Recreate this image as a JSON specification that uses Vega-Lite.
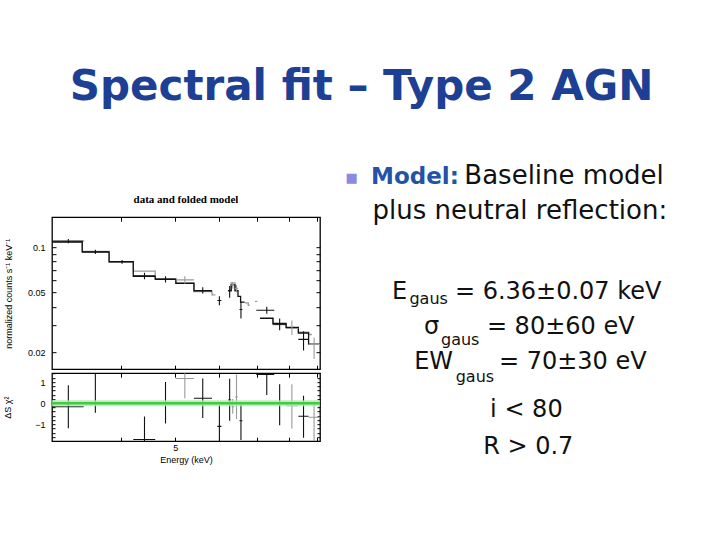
{
  "$schema": "https://vega.github.io/schema/vega-lite/v6.json",
  "background": "white",
  "padding": {"left": 3, "top": 66, "right": 4, "bottom": 5},
  "title": {"text": "Spectral fit – Type 2 AGN", "font": "DejaVu Sans", "fontSize": 42, "fontWeight": "bold", "color": "#1d3f94", "anchor": "middle", "offset": 40},
  "datasets": {
    "model": [
      {"set": "B", "seg": "B1", "e": 3.00, "v": 0.1085},
      {"set": "B", "seg": "B1", "e": 3.40, "v": 0.0935},
      {"set": "B", "seg": "B1", "e": 3.80, "v": 0.0800},
      {"set": "B", "seg": "B1", "e": 4.20, "v": 0.0692},
      {"set": "B", "seg": "B1", "e": 4.60, "v": 0.0612},
      {"set": "B", "seg": "B1", "e": 5.01, "v": 0.0580},
      {"set": "B", "seg": "B1", "e": 5.40, "v": 0.0505},
      {"set": "B", "seg": "B1", "e": 5.82, "v": 0.0480},
      {"set": "B", "seg": "B1", "e": 5.90, "v": 0.0480},
      {"set": "B", "seg": "B2", "e": 6.26, "v": 0.0515},
      {"set": "B", "seg": "B2", "e": 6.30, "v": 0.0578},
      {"set": "B", "seg": "B2", "e": 6.40, "v": 0.0530},
      {"set": "B", "seg": "B2", "e": 6.48, "v": 0.0530},
      {"set": "B", "seg": "B3", "e": 6.66, "v": 0.0425},
      {"set": "B", "seg": "B3", "e": 6.76, "v": 0.0410},
      {"set": "B", "seg": "B3", "e": 6.80, "v": 0.0410},
      {"set": "B", "seg": "B4", "e": 6.95, "v": 0.0435},
      {"set": "B", "seg": "B4", "e": 7.02, "v": 0.0435},
      {"set": "B", "seg": "B5", "e": 7.10, "v": 0.0338},
      {"set": "B", "seg": "B5", "e": 7.49, "v": 0.0305},
      {"set": "B", "seg": "B5", "e": 7.91, "v": 0.0290},
      {"set": "B", "seg": "B5", "e": 8.32, "v": 0.0272},
      {"set": "B", "seg": "B5", "e": 8.68, "v": 0.0262},
      {"set": "B", "seg": "B5", "e": 8.80, "v": 0.0262},
      {"set": "A", "seg": "A1", "e": 3.00, "v": 0.1080},
      {"set": "A", "seg": "A1", "e": 3.40, "v": 0.0925},
      {"set": "A", "seg": "A1", "e": 3.80, "v": 0.0798},
      {"set": "A", "seg": "A1", "e": 4.20, "v": 0.0638},
      {"set": "A", "seg": "A1", "e": 4.60, "v": 0.0612},
      {"set": "A", "seg": "A1", "e": 5.01, "v": 0.0573},
      {"set": "A", "seg": "A1", "e": 5.40, "v": 0.0512},
      {"set": "A", "seg": "A1", "e": 5.82, "v": 0.0512},
      {"set": "A", "seg": "A2", "e": 6.22, "v": 0.0512},
      {"set": "A", "seg": "A2", "e": 6.30, "v": 0.0560},
      {"set": "A", "seg": "A2", "e": 6.40, "v": 0.0512},
      {"set": "A", "seg": "A2", "e": 6.48, "v": 0.0470},
      {"set": "A", "seg": "A2", "e": 6.55, "v": 0.0430},
      {"set": "A", "seg": "A2", "e": 6.66, "v": 0.0430},
      {"set": "A", "seg": "A3", "e": 7.10, "v": 0.0335},
      {"set": "A", "seg": "A3", "e": 7.49, "v": 0.0310},
      {"set": "A", "seg": "A3", "e": 7.91, "v": 0.0292},
      {"set": "A", "seg": "A3", "e": 8.32, "v": 0.0268},
      {"set": "A", "seg": "A3", "e": 8.68, "v": 0.0226},
      {"set": "A", "seg": "A3", "e": 9.10, "v": 0.0226}
    ],
    "points": [
      {"set": "A", "e": 3.21, "elo": 3.00, "ehi": 3.42, "v": 0.1096, "vlo": 0.106, "vhi": 0.113},
      {"set": "A", "e": 3.59, "elo": 3.40, "ehi": 3.80, "v": 0.0930, "vlo": 0.090, "vhi": 0.096},
      {"set": "A", "e": 4.01, "elo": 3.80, "ehi": 4.20, "v": 0.0798, "vlo": 0.0775, "vhi": 0.082},
      {"set": "A", "e": 4.40, "elo": 4.20, "ehi": 4.60, "v": 0.0643, "vlo": 0.061, "vhi": 0.0675},
      {"set": "A", "e": 4.80, "elo": 4.60, "ehi": 5.01, "v": 0.0609, "vlo": 0.058, "vhi": 0.064},
      {"set": "B", "e": 5.20, "elo": 5.01, "ehi": 5.40, "v": 0.0605, "vlo": 0.057, "vhi": 0.064},
      {"set": "A", "e": 5.60, "elo": 5.40, "ehi": 5.82, "v": 0.0514, "vlo": 0.049, "vhi": 0.054},
      {"set": "A", "e": 6.00, "elo": 5.95, "ehi": 6.05, "v": 0.0441, "vlo": 0.041, "vhi": 0.047},
      {"set": "A", "e": 6.26, "elo": 6.22, "ehi": 6.30, "v": 0.0514, "vlo": 0.046, "vhi": 0.055},
      {"set": "B", "e": 6.34, "elo": 6.30, "ehi": 6.38, "v": 0.0558, "vlo": 0.053, "vhi": 0.0585},
      {"set": "B", "e": 6.44, "elo": 6.40, "ehi": 6.48, "v": 0.0530, "vlo": 0.050, "vhi": 0.056},
      {"set": "A", "e": 6.56, "elo": 6.52, "ehi": 6.60, "v": 0.0384, "vlo": 0.0335, "vhi": 0.0432},
      {"set": "A", "e": 7.30, "elo": 6.99, "ehi": 7.53, "v": 0.0380, "vlo": 0.036, "vhi": 0.040},
      {"set": "A", "e": 7.70, "elo": 7.50, "ehi": 7.90, "v": 0.0307, "vlo": 0.028, "vhi": 0.0335},
      {"set": "B", "e": 8.10, "elo": 7.91, "ehi": 8.32, "v": 0.0287, "vlo": 0.026, "vhi": 0.0325},
      {"set": "A", "e": 8.50, "elo": 8.32, "ehi": 8.68, "v": 0.0243, "vlo": 0.0205, "vhi": 0.0275},
      {"set": "B", "e": 8.88, "elo": 8.68, "ehi": 9.10, "v": 0.0225, "vlo": 0.018, "vhi": 0.025}
    ],
    "resid": [
      {"set": "A", "e": 3.21, "elo": 3.00, "ehi": 3.42, "r": -0.17, "rlo": -1.19, "rhi": 0.85},
      {"set": "A", "e": 3.59, "elo": 3.40, "ehi": 3.80, "r": 1.50, "rlo": -0.45, "rhi": 2.40},
      {"set": "A", "e": 4.40, "elo": 4.20, "ehi": 4.60, "r": -1.72, "rlo": -2.80, "rhi": -0.63},
      {"set": "A", "e": 4.80, "elo": 4.60, "ehi": 5.01, "r": 0.02, "rlo": -0.96, "rhi": 1.00},
      {"set": "B", "e": 5.20, "elo": 5.01, "ehi": 5.40, "r": 1.17, "rlo": 0.23, "rhi": 2.10},
      {"set": "A", "e": 5.60, "elo": 5.40, "ehi": 5.82, "r": 0.23, "rlo": -0.70, "rhi": 1.17},
      {"set": "A", "e": 6.00, "elo": 5.95, "ehi": 6.05, "r": -1.10, "rlo": -2.20, "rhi": -0.08},
      {"set": "A", "e": 6.26, "elo": 6.22, "ehi": 6.30, "r": 0.15, "rlo": -0.83, "rhi": 1.16},
      {"set": "B", "e": 6.34, "elo": 6.31, "ehi": 6.38, "r": -0.17, "rlo": -0.50, "rhi": 0.20},
      {"set": "B", "e": 6.44, "elo": 6.41, "ehi": 6.47, "r": 0.30, "rlo": -0.75, "rhi": 1.36},
      {"set": "A", "e": 6.56, "elo": 6.52, "ehi": 6.60, "r": -0.83, "rlo": -1.75, "rhi": 0.06},
      {"set": "A", "e": 7.30, "elo": 6.99, "ehi": 7.53, "r": 1.36, "rlo": 0.39, "rhi": 2.30},
      {"set": "A", "e": 7.70, "elo": 7.50, "ehi": 7.90, "r": 0.00, "rlo": -1.05, "rhi": 0.89},
      {"set": "B", "e": 8.10, "elo": 7.91, "ehi": 8.32, "r": -0.12, "rlo": -1.20, "rhi": 0.90},
      {"set": "A", "e": 8.50, "elo": 8.32, "ehi": 8.68, "r": -0.62, "rlo": -1.64, "rhi": 0.35},
      {"set": "B", "e": 8.88, "elo": 8.68, "ehi": 9.10, "r": -0.67, "rlo": -1.80, "rhi": 0.08}
    ],
    "notes": [
      {"role": "bullet", "t": "■", "x": 0.2, "y": 0.755},
      {"role": "label", "t": "Model:", "x": 0.72, "y": 0.911},
      {"role": "body", "t": "Baseline model", "x": 3.2, "y": 0.911},
      {"role": "body", "t": "plus neutral reflection:", "x": 0.76, "y": 1.823},
      {"role": "prefix", "t": "E", "x": 1.68, "y": 3.906},
      {"role": "sub", "t": "gaus", "x": 1.74, "y": 4.036},
      {"role": "rest", "t": "= 6.36±0.07 keV", "x": 2.95, "y": 3.906},
      {"role": "prefix", "t": "σ", "x": 2.53, "y": 4.818},
      {"role": "sub", "t": "gaus", "x": 2.58, "y": 5.104},
      {"role": "rest", "t": "= 80±60 eV", "x": 3.8, "y": 4.818},
      {"role": "prefix", "t": "EW", "x": 2.9, "y": 5.729},
      {"role": "sub", "t": "gaus", "x": 2.97, "y": 6.068},
      {"role": "rest", "t": "= 70±30 eV", "x": 4.12, "y": 5.729},
      {"role": "center", "t": "i < 80", "x": 4.85, "y": 6.979},
      {"role": "center", "t": "R > 0.7", "x": 4.9, "y": 7.943}
    ]
  },
  "hconcat": [
    {
      "vconcat": [
        {
          "width": 268,
          "height": 152,
          "title": {"text": "data and folded model", "font": "Liberation Serif", "fontSize": 11, "fontWeight": "bold", "color": "#000", "anchor": "middle", "frame": "group", "offset": 12},
          "layer": [
            {
              "data": {"name": "model"},
              "mark": {"type": "line", "interpolate": "step-after", "strokeWidth": 1.3, "clip": true},
              "encoding": {
                "x": {"field": "e", "type": "quantitative", "scale": {"type": "log", "domain": [3, 9.1], "nice": false},
                      "axis": {"orient": "bottom", "values": [4, 5, 6, 7, 8, 9], "labels": false, "tickSize": 4, "offset": -4, "domain": false, "title": null}},
                "y": {"field": "v", "type": "quantitative", "scale": {"type": "log", "domain": [0.0154, 0.158], "nice": false},
                      "axis": {"orient": "left", "values": [0.02, 0.03, 0.04, 0.05, 0.06, 0.07, 0.08, 0.09, 0.1], "format": "~g", "labelExpr": "indexof([0.02, 0.05, 0.1], datum.value) >= 0 ? datum.label : ''", "tickSize": 4, "offset": -4, "domain": false, "labelPadding": 7, "title": "normalized counts s⁻¹ keV⁻¹", "titlePadding": 14}},
                "color": {"field": "set", "type": "nominal", "scale": {"domain": ["A", "B"], "range": ["#111111", "#9a9a9a"]}, "legend": null},
                "detail": {"field": "seg"},
                "order": {"field": "e"}
              }
            },
            {
              "data": {"name": "points"},
              "mark": {"type": "rule", "strokeWidth": 1.1, "clip": true},
              "encoding": {
                "x": {"field": "e", "type": "quantitative", "axis": {"orient": "top", "values": [4, 5, 6, 7, 8, 9], "labels": false, "tickSize": 4, "offset": -4, "domain": false, "title": null}},
                "y": {"field": "vlo", "type": "quantitative", "axis": {"orient": "right", "values": [0.02, 0.03, 0.04, 0.05, 0.06, 0.07, 0.08, 0.09, 0.1], "labels": false, "tickSize": 4, "offset": -4, "domain": false, "title": null}},
                "y2": {"field": "vhi"},
                "color": {"field": "set", "type": "nominal", "legend": null}
              }
            },
            {
              "data": {"name": "points"},
              "mark": {"type": "rule", "strokeWidth": 1.1, "clip": true},
              "encoding": {
                "x": {"field": "elo", "type": "quantitative", "axis": null},
                "x2": {"field": "ehi"},
                "y": {"field": "v", "type": "quantitative", "axis": null},
                "color": {"field": "set", "type": "nominal", "legend": null}
              }
            }
          ],
          "resolve": {"axis": {"x": "independent", "y": "independent"}}
        },
        {
          "width": 268,
          "height": 68,
          "layer": [
            {
              "data": {"name": "resid"},
              "mark": {"type": "rule", "strokeWidth": 1.1, "clip": true},
              "encoding": {
                "x": {"field": "e", "type": "quantitative", "scale": {"type": "log", "domain": [3, 9.1], "nice": false},
                      "axis": {"orient": "bottom", "values": [4, 5, 6, 7, 8, 9], "format": "~g", "labelExpr": "datum.value == 5 ? datum.label : ''", "tickSize": 4, "offset": -4, "domain": false, "labelPadding": 2, "title": "Energy (keV)", "titlePadding": 3}},
                "y": {"field": "rlo", "type": "quantitative", "scale": {"domain": [-1.8, 1.42], "nice": false, "zero": false},
                      "axis": {"orient": "left", "values": [-1.6, -1.4, -1.2, -1, -0.8, -0.6, -0.4, -0.2, 0, 0.2, 0.4, 0.6, 0.8, 1, 1.2, 1.4], "format": "~g", "labelExpr": "(datum.value == 1 || datum.value == 0 || datum.value == -1) ? datum.label : ''", "tickSize": 3, "offset": -3, "domain": false, "labelPadding": 7, "title": "ΔS χ²", "titlePadding": 22}},
                "y2": {"field": "rhi"},
                "color": {"field": "set", "type": "nominal", "scale": {"domain": ["A", "B"], "range": ["#111111", "#9a9a9a"]}, "legend": null}
              }
            },
            {
              "data": {"name": "resid"},
              "mark": {"type": "rule", "strokeWidth": 1.1, "clip": true},
              "encoding": {
                "x": {"field": "elo", "type": "quantitative", "axis": {"orient": "top", "values": [4, 5, 6, 7, 8, 9], "labels": false, "tickSize": 4, "offset": -4, "domain": false, "title": null}},
                "x2": {"field": "ehi"},
                "y": {"field": "r", "type": "quantitative", "axis": {"orient": "right", "values": [-1.6, -1.4, -1.2, -1, -0.8, -0.6, -0.4, -0.2, 0, 0.2, 0.4, 0.6, 0.8, 1, 1.2, 1.4], "labels": false, "tickSize": 3, "offset": -3, "domain": false, "title": null}},
                "color": {"field": "set", "type": "nominal", "legend": null}
              }
            },
            {
              "data": {"values": [{"zero": 0}]},
              "mark": {"type": "rule", "strokeWidth": 6, "color": "#aee8ae", "opacity": 0.8},
              "encoding": {"y": {"field": "zero", "type": "quantitative", "axis": null}}
            },
            {
              "data": {"values": [{"zero": 0}]},
              "mark": {"type": "rule", "strokeWidth": 2.5, "color": "#3fcc3f"},
              "encoding": {"y": {"field": "zero", "type": "quantitative", "axis": null}}
            }
          ],
          "resolve": {"axis": {"x": "independent", "y": "independent"}}
        }
      ],
      "spacing": 0
    },
    {
      "width": 376,
      "height": 384,
      "view": {"stroke": null},
      "data": {"name": "notes"},
      "encoding": {
        "x": {"field": "x", "type": "quantitative", "scale": {"domain": [0, 10], "nice": false, "zero": false}, "axis": null},
        "y": {"field": "y", "type": "quantitative", "scale": {"domain": [0, 10], "nice": false, "zero": false, "reverse": true}, "axis": null},
        "text": {"field": "t"}
      },
      "layer": [
        {"transform": [{"filter": "datum.role == 'bullet'"}], "mark": {"type": "text", "font": "DejaVu Sans", "fontSize": 13, "align": "center", "baseline": "middle", "color": "#8a8ae0"}},
        {"transform": [{"filter": "datum.role == 'label'"}], "mark": {"type": "text", "font": "DejaVu Sans", "fontSize": 23, "fontWeight": "bold", "align": "left", "baseline": "alphabetic", "color": "#2452a6"}},
        {"transform": [{"filter": "datum.role == 'body'"}], "mark": {"type": "text", "font": "DejaVu Sans", "fontSize": 26, "align": "left", "baseline": "alphabetic", "color": "#111111"}},
        {"transform": [{"filter": "datum.role == 'prefix'"}], "mark": {"type": "text", "font": "DejaVu Sans", "fontSize": 24, "align": "right", "baseline": "alphabetic", "color": "#111111"}},
        {"transform": [{"filter": "datum.role == 'sub'"}], "mark": {"type": "text", "font": "DejaVu Sans", "fontSize": 16, "align": "left", "baseline": "alphabetic", "color": "#111111"}},
        {"transform": [{"filter": "datum.role == 'rest'"}], "mark": {"type": "text", "font": "DejaVu Sans", "fontSize": 24, "align": "left", "baseline": "alphabetic", "color": "#111111"}},
        {"transform": [{"filter": "datum.role == 'center'"}], "mark": {"type": "text", "font": "DejaVu Sans", "fontSize": 24, "align": "center", "baseline": "alphabetic", "color": "#111111"}}
      ]
    }
  ],
  "spacing": 20,
  "center": true,
  "config": {
    "view": {"stroke": "#000000", "strokeWidth": 1.3},
    "axis": {"grid": false, "labelFont": "Liberation Sans", "labelFontSize": 9, "labelColor": "#000", "titleFont": "Liberation Sans", "titleFontSize": 9, "titleFontWeight": "normal", "titleColor": "#000", "tickColor": "#000", "tickWidth": 1}
  }
}
